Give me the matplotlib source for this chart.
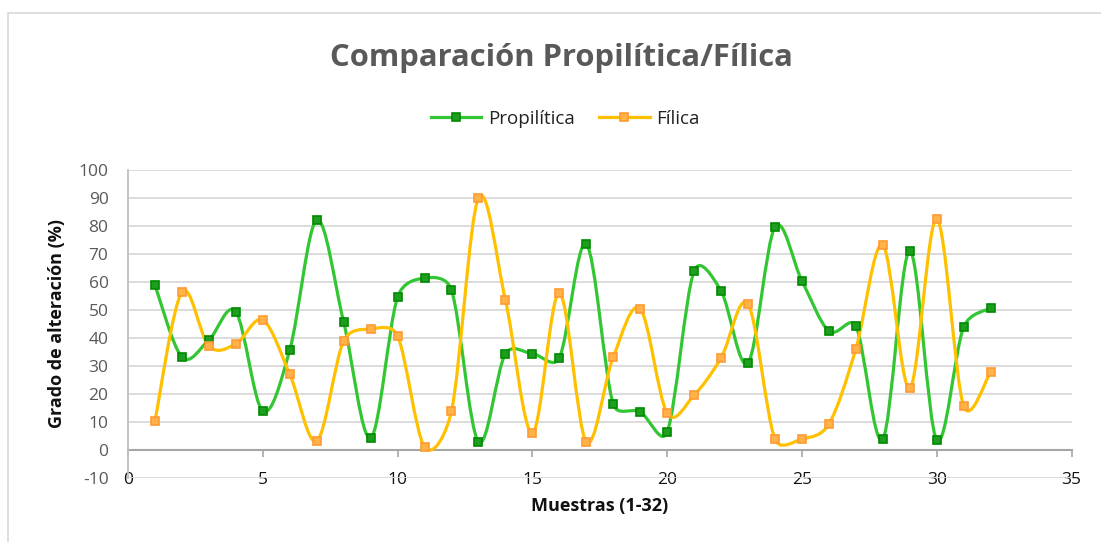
import matplotlib.pyplot as plt
import numpy as np
from matplotlib.path import Path
from matplotlib.patches import PathPatch, Rectangle
from matplotlib.lines import Line2D

# Input data
muestras = list(range(1, 33))
propilitica = [58.9, 33.2, 39.3, 49.3, 13.9, 35.7, 82.1, 45.7, 4.3, 54.6,
               61.4, 57.1, 2.9, 34.3, 34.4, 32.9, 73.6, 16.4, 13.6, 6.4,
               63.9, 56.8, 31.1, 79.6, 60.4, 42.5, 44.3, 3.9, 71.1, 3.6,
               43.9, 50.7]
filica = [10.4, 56.4, 37.1, 37.9, 46.4, 27.1, 3.2, 38.9, 43.2, 40.7,
          1.1, 13.9, 90.0, 53.6, 6.1, 56.1, 2.9, 33.2, 50.4, 13.2,
          19.6, 32.9, 52.1, 3.9, 3.9, 9.3, 36.1, 73.2, 22.1, 82.5,
          15.7, 27.9]

plt.rcParams['font.family'] = ['Open Sans', 'DejaVu Sans']
plt.rcParams['axes.unicode_minus'] = False

W, H = 1101, 542
fig = plt.figure(figsize=(W / 100, H / 100), dpi=100)

# chart border (cropped on right/bottom)
fig.patches.append(Rectangle((8 / W, -0.1), 1.2, 1 - 13 / H + 0.1,
                             transform=fig.transFigure, fill=False,
                             edgecolor='#D9D9D9', linewidth=1.2))

left, right = 128 / W, 1071.5 / W
bottom, top = 1 - 478 / H, 1 - 170 / H
ax = fig.add_axes([left, bottom, right - left, top - bottom])

# pixel size of one data unit (smoothing is done in screen space)
SX, SY = 943.5 / 35, 308 / 110


def smooth_path(xs, ys):
    # Excel-like smoothing: catmull-rom arms (1/6), capped at half the segment
    p = np.column_stack([np.asarray(xs, float) * SX, np.asarray(ys, float) * SY])
    n = len(p)
    verts = [p[0]]
    codes = [Path.MOVETO]
    for i in range(n - 1):
        p0 = p[max(i - 1, 0)]
        p1, p2 = p[i], p[i + 1]
        p3 = p[min(i + 2, n - 1)]
        d12 = np.hypot(*(p2 - p1))
        a1 = (p2 - p0) / 6
        a2 = (p3 - p1) / 6
        l1, l2 = np.hypot(*a1), np.hypot(*a2)
        if l1 > d12 / 2:
            a1 = a1 * (d12 / 2) / l1
        if l2 > d12 / 2:
            a2 = a2 * (d12 / 2) / l2
        verts += [p1 + a1, p2 - a2, p2]
        codes += [Path.CURVE4] * 3
    verts = np.array(verts) / [SX, SY]
    return Path(verts, codes)


series = [
    ('Propilítica', propilitica, '#33C633', '#1E9E1E', '#008A00'),
    ('Fílica', filica, '#FFC000', '#FFB347', '#FF9933'),
]
handles = []
for name, vals, lc, mfc, mec in series:
    ax.add_patch(PathPatch(smooth_path(muestras, vals), facecolor='none',
                           edgecolor=lc, linewidth=2.3, zorder=3))
    ax.plot(muestras, vals, linestyle='none', marker='s', markersize=5.5,
            markerfacecolor=mfc, markeredgecolor=mec, markeredgewidth=1.2,
            zorder=4)
    handles.append(Line2D([], [], color=lc, linewidth=2.3, marker='s',
                          markersize=5.5, markerfacecolor=mfc,
                          markeredgecolor=mec, markeredgewidth=1.2,
                          label=name))

ax.set_xlim(0, 35)
ax.set_ylim(-10, 100)
ax.set_xticks(range(0, 36, 5))
ax.set_yticks(range(-10, 101, 10))
ax.grid(axis='y', color='#D9D9D9', linewidth=1.3)
ax.set_axisbelow(True)

for s in ['top', 'right']:
    ax.spines[s].set_visible(False)
ax.spines['left'].set_color('#BFBFBF')
ax.spines['left'].set_linewidth(1.3)
ax.spines['bottom'].set_position(('data', 0))
ax.spines['bottom'].set_color('#A6A6A6')
ax.spines['bottom'].set_linewidth(1.5)
ax.spines['bottom'].set_zorder(2)

ax.tick_params(axis='y', length=0, pad=14, labelsize=12.5, labelcolor='#595959')
ax.tick_params(axis='x', length=5, width=1.2, color='#A6A6A6', pad=11,
               labelsize=12.5, labelcolor='#111111')

ax.set_xlabel('Muestras (1-32)', fontsize=13, fontweight='bold', color='#111111')
ax.xaxis.set_label_coords(0.5, (478 - 506) / 308)
ax.xaxis.label.set_va('center')
ax.set_ylabel('Grado de alteración (%)', fontsize=13, fontweight='bold',
              color='#111111')
ax.yaxis.set_label_coords((57 - 128) / 943.5, 0.5)
ax.yaxis.label.set_va('center')

fig.text(561 / W, 1 - 58 / H, 'Comparación Propilítica/Fílica', ha='center',
         va='center', fontsize=22.3, fontweight='bold', color='#595959')

fig.legend(handles=handles, loc='center', bbox_to_anchor=(565 / W, 1 - 119 / H),
           ncol=2, frameon=False, fontsize=13.5, handlelength=2.7,
           columnspacing=1.3, handletextpad=0.35, labelcolor='#222222')

fig.savefig('out.png', dpi=100)
